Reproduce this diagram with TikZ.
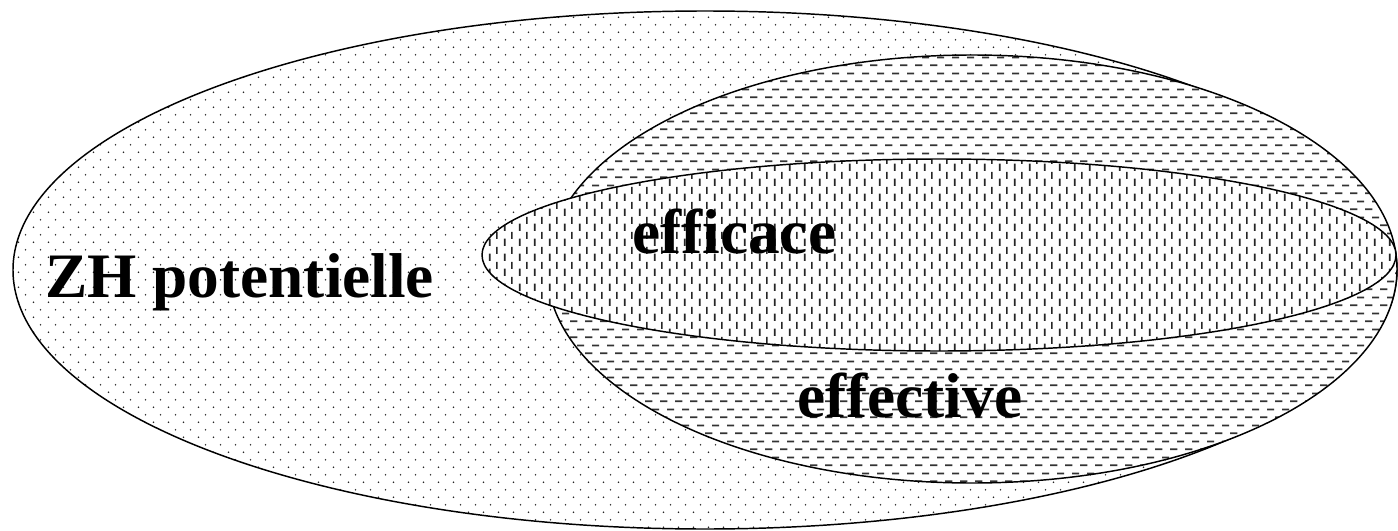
\documentclass[tikz,border=0pt]{standalone}
\usepackage{fontspec}
\setmainfont{Liberation Serif}
\usetikzlibrary{patterns.meta}
\pgfdeclarepattern{
  name=zhdots, type=uncolored,
  bottom left={\pgfpointorigin}, top right={\pgfpoint{11.25pt}{11.55pt}},
  tile size={\pgfpoint{11.25pt}{11.55pt}},
  code={
    \pgfpathcircle{\pgfpoint{2.8pt}{2.9pt}}{0.65pt}
    \pgfpathcircle{\pgfpoint{8.4pt}{8.7pt}}{0.65pt}
    \pgfusepath{fill}
  }
}
\pgfdeclarepattern{
  name=zhhdash, type=uncolored,
  bottom left={\pgfpointorigin}, top right={\pgfpoint{11.25pt}{11.7pt}},
  tile size={\pgfpoint{11.25pt}{11.7pt}},
  code={
    \pgfpathrectangle{\pgfpoint{0pt}{2.3pt}}{\pgfpoint{5.8pt}{1.35pt}}
    \pgfpathrectangle{\pgfpoint{5.6pt}{8.15pt}}{\pgfpoint{5.6pt}{1.35pt}}
    \pgfusepath{fill}
  }
}
\pgfdeclarepattern{
  name=zhvdash, type=uncolored,
  bottom left={\pgfpointorigin}, top right={\pgfpoint{11.4pt}{11.25pt}},
  tile size={\pgfpoint{11.4pt}{11.25pt}},
  code={
    \pgfpathrectangle{\pgfpoint{2.2pt}{0pt}}{\pgfpoint{1.35pt}{5.8pt}}
    \pgfpathrectangle{\pgfpoint{7.9pt}{5.6pt}}{\pgfpoint{1.35pt}{5.6pt}}
    \pgfusepath{fill}
  }
}
\tikzset{
  outline/.style={draw=black, line width=1.1pt},
  lbl/.style={inner sep=0pt, anchor=base west, font=\fontsize{47.5}{57}\selectfont\bfseries},
}
\begin{document}
\begin{tikzpicture}[x=0.75pt, y=-0.75pt]
\useasboundingbox (0,0) rectangle (1398,531);
% ZH potentielle
\path[fill=white] (705,270) ellipse [x radius=692, y radius=259];
\path[pattern={zhdots}, pattern color=black!85] (705,270) ellipse [x radius=692, y radius=259];
\draw[outline] (705,270) ellipse [x radius=692, y radius=259];
% effective
\path[fill=white] (972,269) ellipse [x radius=425, y radius=214];
\path[pattern={zhhdash}, pattern color=black!80] (972,269) ellipse [x radius=425, y radius=214];
\draw[outline] (972,269) ellipse [x radius=425, y radius=214];
% efficace
\path[fill=white] (939,255) ellipse [x radius=457, y radius=96];
\path[pattern={zhvdash}, pattern color=black!85] (939,255) ellipse [x radius=457, y radius=96];
\draw[outline] (939,255) ellipse [x radius=457, y radius=96];
% labels
\node[lbl] (zh) at (45,297) {ZH potentielle};
\node[lbl] (efficace) at (632,253) {efficace};
\node[lbl] (effective) at (797,417) {effective};
\end{tikzpicture}
\end{document}
